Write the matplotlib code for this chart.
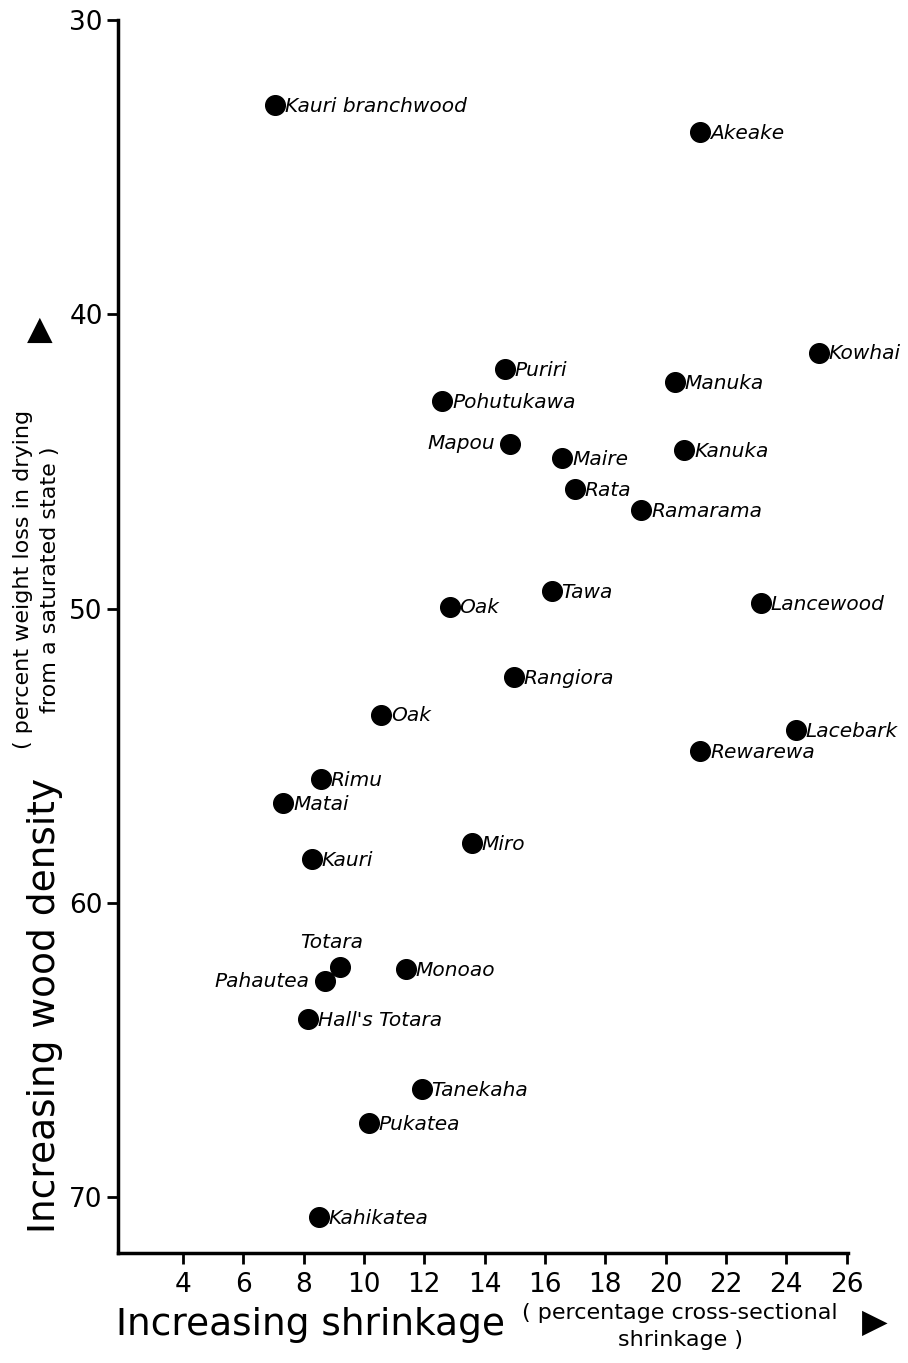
import matplotlib.pyplot as plt

# species, shrinkage (%), weight loss in drying (%)
species = ["Kauri branchwood", "Akeake", "Kowhai", "Puriri", "Manuka", "Pohutukawa",
           "Mapou", "Kanuka", "Maire", "Rata", "Ramarama", "Tawa", "Oak", "Lancewood",
           "Rangiora", "Oak", "Lacebark", "Rewarewa", "Rimu", "Matai", "Miro", "Kauri",
           "Totara", "Monoao", "Pahautea", "Hall's Totara", "Tanekaha", "Pukatea", "Kahikatea"]
shrinkage = [7.06, 21.15, 25.08, 14.68, 20.32, 12.6,
             14.84, 20.62, 16.58, 17.0, 19.2, 16.22, 12.84, 23.15,
             14.97, 10.58, 24.33, 21.15, 8.57, 7.33, 13.58, 8.27,
             9.2, 11.4, 8.7, 8.14, 11.92, 10.17, 8.5]
weight_loss = [32.9, 33.8, 41.3, 41.85, 42.3, 42.95,
               44.4, 44.62, 44.9, 45.95, 46.65, 49.39, 49.93, 49.8,
               52.33, 53.6, 54.14, 54.85, 55.8, 56.6, 57.98, 58.5,
               62.19, 62.25, 62.66, 63.94, 66.34, 67.48, 70.67]

x_ticks = [4, 6, 8, 10, 12, 14, 16, 18, 20, 22, 24, 26]
y_ticks = [30, 40, 50, 60, 70]

# where the name sits relative to its dot
left_labels = {"Mapou", "Pahautea"}
above_labels = {"Totara"}

fig = plt.figure(figsize=(9.08, 13.63), dpi=100)
ax = fig.add_axes([0.13, 0.0807, 0.804, 0.9046])

ax.scatter(shrinkage, weight_loss, s=200, color="black", zorder=3)

for name, xv, yv in zip(species, shrinkage, weight_loss):
    if name in left_labels:
        ax.annotate(name, (xv, yv), xytext=(-11, 0), textcoords="offset points",
                    ha="right", va="center", fontsize=14.5, style="italic")
    elif name in above_labels:
        ax.annotate(name, (xv, yv), xytext=(-6, 11), textcoords="offset points",
                    ha="center", va="bottom", fontsize=14.5, style="italic")
    else:
        ax.annotate(name, (xv, yv), xytext=(7, -1), textcoords="offset points",
                    ha="left", va="center", fontsize=14.5, style="italic")

ax.set_xlim(1.85, 26.05)
ax.set_ylim(71.9, 30)
ax.set_xticks(x_ticks)
ax.set_yticks(y_ticks)
ax.tick_params(axis="both", direction="out", length=8, width=2, labelsize=19)
ax.tick_params(axis="x", pad=6)
ax.tick_params(axis="y", pad=3)

for side in ["top", "right"]:
    ax.spines[side].set_visible(False)
for side in ["left", "bottom"]:
    ax.spines[side].set_linewidth(2.5)

# axis titles
fig.text(0.128, 0.028, "Increasing shrinkage", fontsize=27, ha="left", va="center")
fig.text(0.749, 0.027, "( percentage cross-sectional\nshrinkage )", fontsize=16,
         ha="center", va="center", linespacing=1.45)
fig.text(0.963, 0.030, "\u25B6", fontsize=24, ha="center", va="center")

fig.text(0.05, 0.262, "Increasing wood density", fontsize=27, rotation=90,
         ha="center", va="center")
fig.text(0.040, 0.575, "( percent weight loss in drying\nfrom a saturated state )", fontsize=16,
         rotation=90, ha="center", va="center", linespacing=1.45)
fig.text(0.044, 0.758, "\u25B2", fontsize=24, ha="center", va="center")

fig.savefig("out.png", dpi=100)
